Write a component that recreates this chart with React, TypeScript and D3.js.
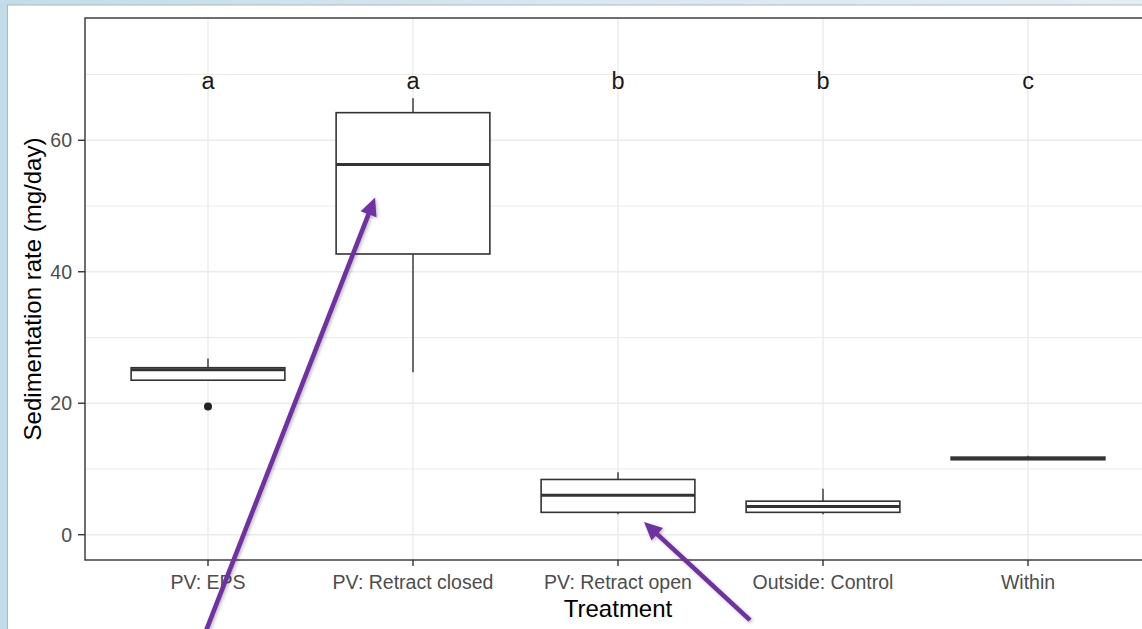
import React from "react";
import * as d3 from "d3";

const categories = ["PV: EPS", "PV: Retract closed", "PV: Retract open", "Outside: Control", "Within"];
const lowerWhisker = [23.5, 24.7, 3.1, 3.1, 11.5];
const q1 = [23.5, 42.7, 3.4, 3.4, 11.4];
const median = [25.1, 56.3, 6.0, 4.3, 11.6];
const q3 = [25.4, 64.2, 8.4, 5.1, 11.8];
const upperWhisker = [26.8, 66.4, 9.5, 7.0, 12.0];
const outliers: number[][] = [[19.5], [], [], [], []];
const letters = ["a", "a", "b", "b", "c"];
const letterY = 69;
const yMajorTicks = [0, 20, 40, 60];
const yMinorTicks = [10, 30, 50, 70];
const yTitle = "Sedimentation rate (mg/day)";
const xTitle = "Treatment";
// annotation arrows in data coords: [tailIndex, tailValue, tipIndex, tipValue]
const arrows = [
  [-0.027, -16.0, 0.815, 51.3],
  [2.644, -13.0, 2.127, 1.93],
];

const W = 1142;
const H = 629;
const panel = { left: 85, top: 18, right: 1151, bottom: 560 };
const FONT = "'Liberation Sans', Arial, Helvetica, sans-serif";

export default function App() {
  const x = d3
    .scaleBand<string>()
    .domain(categories)
    .range([panel.left, panel.right])
    .paddingInner(0.25)
    .paddingOuter(0.225);
  const xi = d3
    .scaleLinear()
    .domain([-0.6, categories.length - 0.4])
    .range([panel.left, panel.right]);
  const y = d3.scaleLinear().domain([-3.85, 78.6]).range([panel.bottom, panel.top]);
  const bw = x.bandwidth();
  const cx = (c: string) => (x(c) as number) + bw / 2;

  const purple = "#7030a0";

  return (
    <svg
      width={W}
      height={H}
      style={{ position: "absolute", left: 0, top: 0, display: "block" }}
      fontFamily={FONT}
    >
      <defs>
        <linearGradient id="bg" x1="0" y1="0" x2="1" y2="0">
          <stop offset="0" stopColor="#c2dcea" />
          <stop offset="0.5" stopColor="#d6e8f2" />
          <stop offset="1" stopColor="#e3eef5" />
        </linearGradient>
        <filter id="shadow" x="-20%" y="-20%" width="140%" height="140%">
          <feDropShadow dx="1.5" dy="1.5" stdDeviation="1.5" floodColor="#000" floodOpacity="0.25" />
        </filter>
        <clipPath id="clipAll">
          <rect x={0} y={0} width={W} height={H} />
        </clipPath>
      </defs>
      <rect x={0} y={0} width={W} height={H} fill="url(#bg)" />
      <rect x={7.5} y={5} width={W} height={H} fill="#ffffff" stroke="#b5b5b5" strokeWidth={1} />

      {/* grid */}
      <g>
        {yMinorTicks.map((t) => (
          <line key={"mn" + t} x1={panel.left} x2={panel.right} y1={y(t)} y2={y(t)} stroke="#ebebeb" strokeWidth={1} />
        ))}
        {yMajorTicks.map((t) => (
          <line key={"mj" + t} x1={panel.left} x2={panel.right} y1={y(t)} y2={y(t)} stroke="#ebebeb" strokeWidth={1.4} />
        ))}
        {categories.map((c) => (
          <line key={"vx" + c} x1={cx(c)} x2={cx(c)} y1={panel.top} y2={panel.bottom} stroke="#ebebeb" strokeWidth={1.4} />
        ))}
      </g>

      {/* boxplots */}
      <g stroke="#333333" fill="#ffffff">
        {categories.map((c, i) => {
          const xc = cx(c);
          const x0 = x(c) as number;
          return (
            <g key={"box" + c}>
              <line x1={xc} x2={xc} y1={y(upperWhisker[i])} y2={y(q3[i])} strokeWidth={1.4} />
              <line x1={xc} x2={xc} y1={y(q1[i])} y2={y(lowerWhisker[i])} strokeWidth={1.4} />
              <rect x={x0} y={y(q3[i])} width={bw} height={Math.max(0, y(q1[i]) - y(q3[i]))} strokeWidth={1.6} />
              <line x1={x0} x2={x0 + bw} y1={y(median[i])} y2={y(median[i])} strokeWidth={3} />
              {outliers[i].map((o, k) => (
                <circle key={k} cx={xc} cy={y(o)} r={4} fill="#222222" stroke="none" />
              ))}
            </g>
          );
        })}
      </g>

      {/* letters */}
      {categories.map((c, i) => (
        <text key={"lt" + c} x={cx(c)} y={y(letterY) + 8} textAnchor="middle" fontSize={23.5} fill="#1a1a1a">
          {letters[i]}
        </text>
      ))}

      {/* panel border */}
      <rect
        x={panel.left}
        y={panel.top}
        width={panel.right - panel.left}
        height={panel.bottom - panel.top}
        fill="none"
        stroke="#333333"
        strokeWidth={1.4}
      />

      {/* y axis */}
      {yMajorTicks.map((t) => (
        <g key={"yt" + t}>
          <line x1={panel.left - 7} x2={panel.left} y1={y(t)} y2={y(t)} stroke="#333333" strokeWidth={1.4} />
          <text x={panel.left - 13} y={y(t)} dy="0.35em" textAnchor="end" fontSize={19.5} fill="#4d4d4d">
            {t}
          </text>
        </g>
      ))}
      {/* x axis */}
      {categories.map((c) => (
        <g key={"xt" + c}>
          <line x1={cx(c)} x2={cx(c)} y1={panel.bottom} y2={panel.bottom + 6} stroke="#333333" strokeWidth={1.4} />
          <text x={cx(c)} y={panel.bottom + 29} textAnchor="middle" fontSize={19.5} fill="#4d4d4d">
            {c}
          </text>
        </g>
      ))}

      <text x={(panel.left + panel.right) / 2} y={617} textAnchor="middle" fontSize={24} fill="#000">
        {xTitle}
      </text>
      <text
        transform={`translate(41, ${(panel.top + panel.bottom) / 2}) rotate(-90)`}
        textAnchor="middle"
        fontSize={24}
        fill="#000"
      >
        {yTitle}
      </text>

      {/* annotation arrows */}
      <g filter="url(#shadow)" clipPath="url(#clipAll)">
        {arrows.map((a, k) => {
          const tx = xi(a[0]);
          const ty = y(a[1]);
          const hx = xi(a[2]);
          const hy = y(a[3]);
          const dx = hx - tx;
          const dy = hy - ty;
          const len = Math.sqrt(dx * dx + dy * dy);
          const ux = dx / len;
          const uy = dy / len;
          const headL = 18;
          const headW = 8.5;
          const bx = hx - ux * headL;
          const by = hy - uy * headL;
          const px = -uy;
          const py = ux;
          const pts = [
            [hx, hy],
            [bx + px * headW, by + py * headW],
            [bx - px * headW, by - py * headW],
          ];
          return (
            <g key={"ar" + k}>
              <line x1={tx} y1={ty} x2={bx + ux * 2} y2={by + uy * 2} stroke={purple} strokeWidth={4.6} />
              <polygon points={pts.map((p) => p.join(",")).join(" ")} fill={purple} />
            </g>
          );
        })}
      </g>
    </svg>
  );
}
